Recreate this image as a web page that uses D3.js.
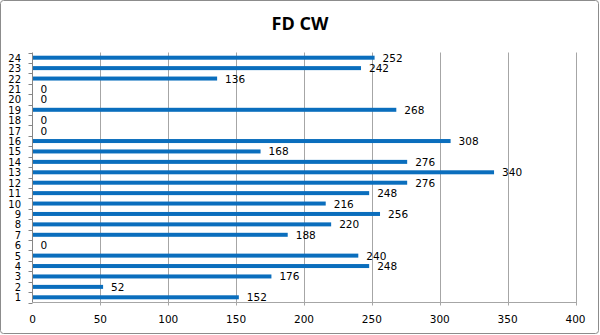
<!DOCTYPE html>
<html>
<head>
<meta charset="utf-8">
<script src="https://cdn.jsdelivr.net/npm/d3@7"></script>
<style>
  html, body { margin: 0; padding: 0; background: #fff; }
  svg { display: block; }
</style>
</head>
<body>
<svg id="chart" width="600" height="335"></svg>
<script>
// Categories 1..24 and their FD CW values
const categories = ["1","2","3","4","5","6","7","8","9","10","11","12",
                    "13","14","15","16","17","18","19","20","21","22","23","24"];
const values = [152, 52, 176, 248, 240, 0, 188, 220, 256, 216, 248, 276,
                340, 276, 168, 308, 0, 0, 268, 0, 0, 136, 242, 252];
const xTicks = [0, 50, 100, 150, 200, 250, 300, 350, 400];
const titleText = "FD CW";

const W = 600, H = 335;
const plot = { left: 32.5, right: 575.5, top: 52.5, bottom: 302.5 };

const svg = d3.select("#chart");
const labelFont = "DejaVu Sans, Verdana, sans-serif";

// outer frame
svg.append("rect")
  .attr("x", 0.5).attr("y", 0.5)
  .attr("width", W - 2).attr("height", H - 2)
  .attr("rx", 3)
  .attr("fill", "#fff")
  .attr("stroke", "#8c8c8c");

// title
svg.append("text")
  .attr("x", 300).attr("y", 30)
  .attr("text-anchor", "middle")
  .attr("font-family", "'Open Sans', 'Noto Sans', sans-serif")
  .attr("font-weight", "bold")
  .attr("font-size", 18)
  .attr("fill", "#000")
  .text(titleText);

const x = d3.scaleLinear().domain([0, 400]).range([plot.left, plot.right]);
// categories run bottom to top
const y = d3.scaleBand()
  .domain(categories.slice().reverse())
  .range([plot.top, plot.bottom])
  .paddingInner(0.6)
  .paddingOuter(0.3);

// vertical gridlines
svg.append("g").selectAll("line")
  .data(xTicks.filter(d => d > 0))
  .join("line")
  .attr("x1", d => Math.round(x(d)) + 0.5).attr("x2", d => Math.round(x(d)) + 0.5)
  .attr("y1", plot.top).attr("y2", plot.bottom + 3)
  .attr("stroke", "#a6a6a6").attr("stroke-width", 1);

// bottom axis line
svg.append("line")
  .attr("x1", plot.left).attr("x2", plot.right + 0.5)
  .attr("y1", plot.bottom).attr("y2", plot.bottom)
  .attr("stroke", "#a6a6a6");

// x tick labels
svg.append("g").selectAll("text")
  .data(xTicks)
  .join("text")
  .attr("x", d => x(d))
  .attr("y", 323)
  .attr("text-anchor", "middle")
  .attr("font-family", labelFont)
  .attr("font-size", 10.5)
  .attr("fill", "#000")
  .text(d => d);

// bars
svg.append("g").selectAll("rect")
  .data(values.map((v, i) => ({ c: categories[i], v })))
  .join("rect")
  .attr("x", x(0))
  .attr("y", d => y(d.c) + (y.bandwidth() - 4) / 2)
  .attr("width", d => x(d.v) - x(0))
  .attr("height", 4)
  .attr("fill", "#0a6ebd");

// left axis line and category boundary ticks
svg.append("line")
  .attr("x1", plot.left).attr("x2", plot.left)
  .attr("y1", plot.top).attr("y2", plot.bottom)
  .attr("stroke", "#868686");
const step = y.step();
const bounds = d3.range(categories.length + 1).map(i => plot.top + i * step);
svg.append("g").selectAll("line")
  .data(bounds)
  .join("line")
  .attr("x1", plot.left - 4).attr("x2", plot.left)
  .attr("y1", d => Math.round(d) + 0.5).attr("y2", d => Math.round(d) + 0.5)
  .attr("stroke", "#868686");

// category labels
svg.append("g").selectAll("text")
  .data(categories)
  .join("text")
  .attr("x", 21)
  .attr("y", d => y(d) + y.bandwidth() / 2 + 4)
  .attr("text-anchor", "end")
  .attr("font-family", labelFont)
  .attr("font-size", 10)
  .attr("fill", "#000")
  .text(d => d);

// value labels
svg.append("g").selectAll("text")
  .data(values.map((v, i) => ({ c: categories[i], v })))
  .join("text")
  .attr("x", d => x(d.v) + 8)
  .attr("y", d => y(d.c) + y.bandwidth() / 2 + 4)
  .attr("font-family", labelFont)
  .attr("font-size", 10.5)
  .attr("fill", "#000")
  .text(d => d.v);
</script>
</body>
</html>
